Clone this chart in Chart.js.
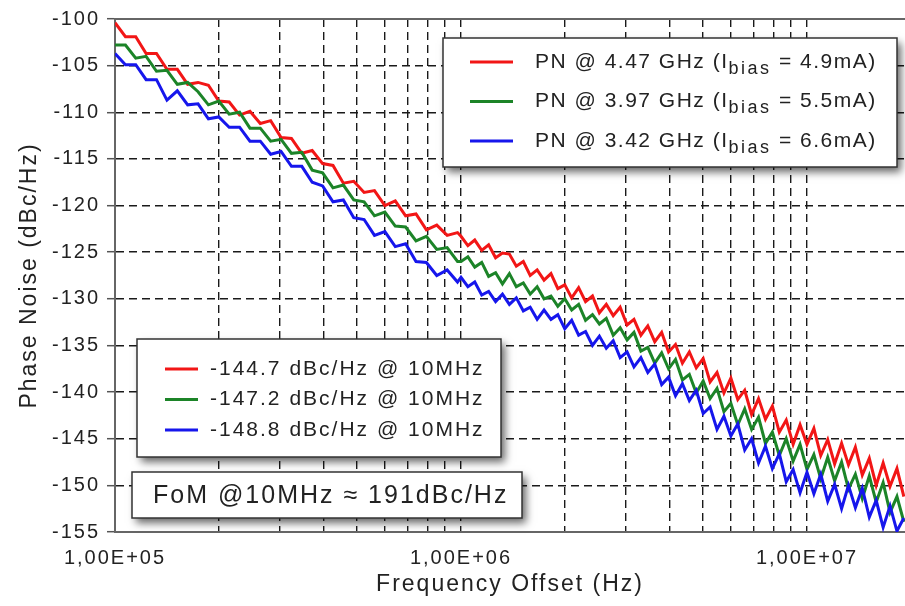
<!DOCTYPE html>
<html>
<head>
<meta charset="utf-8">
<title>Phase Noise vs Frequency Offset</title>
<script src="https://cdn.jsdelivr.net/npm/chart.js@4.4.1/dist/chart.umd.min.js"></script>
<style>
  html, body { margin: 0; padding: 0; background: #fff; }
  canvas { display: block; }
</style>
</head>
<body>
<canvas id="pnChart" width="905" height="606"></canvas>
<script>
// offset frequencies (Hz)
const freqOffsets = [
    1.000e5, 1.072e5, 1.148e5, 1.230e5, 1.318e5, 1.413e5, 1.514e5, 1.622e5, 1.738e5, 1.862e5,
    1.995e5, 2.138e5, 2.291e5, 2.455e5, 2.630e5, 2.818e5, 3.020e5, 3.236e5, 3.467e5, 3.715e5,
    3.981e5, 4.266e5, 4.571e5, 4.898e5, 5.248e5, 5.623e5, 6.026e5, 6.457e5, 6.918e5, 7.413e5,
    7.943e5, 8.511e5, 9.120e5, 9.772e5,
    1.000e6, 1.047e6, 1.096e6, 1.148e6, 1.202e6, 1.259e6, 1.318e6, 1.380e6, 1.445e6, 1.514e6,
    1.585e6, 1.660e6, 1.738e6, 1.820e6, 1.905e6, 1.995e6, 2.089e6, 2.188e6, 2.291e6, 2.399e6,
    2.512e6, 2.630e6, 2.754e6, 2.884e6, 3.020e6, 3.162e6, 3.311e6, 3.467e6, 3.631e6, 3.802e6,
    3.981e6, 4.169e6, 4.365e6, 4.571e6, 4.786e6, 5.012e6, 5.248e6, 5.495e6, 5.754e6, 6.026e6,
    6.310e6, 6.607e6, 6.918e6, 7.244e6, 7.586e6, 7.943e6, 8.318e6, 8.710e6, 9.120e6, 9.550e6,
    1.000e7, 1.047e7, 1.096e7, 1.148e7, 1.202e7, 1.259e7, 1.318e7, 1.380e7, 1.445e7, 1.514e7,
    1.585e7, 1.660e7, 1.738e7, 1.820e7, 1.905e7
];

// phase noise in dBc/Hz, 4.47 GHz carrier
const pn447 = [
    -100.4, -101.9, -101.9, -103.7, -103.7, -105.4, -105.4, -107.0, -106.8, -107.1,
    -108.8, -108.9, -110.3, -109.9, -111.2, -110.9, -112.7, -112.8, -114.4, -114.1,
    -115.5, -115.7, -117.6, -117.4, -118.6, -118.4, -120.0, -119.5, -121.1, -120.9,
    -122.6, -122.1, -123.2, -122.9,
    -123.3, -124.3, -123.7, -124.8, -124.2, -125.6, -125.1, -125.2, -126.5, -126.0,
    -127.5, -126.9, -128.0, -127.3, -128.9, -128.5, -129.9, -128.8, -130.3, -129.7,
    -131.5, -130.6, -131.8, -130.9, -132.8, -132.2, -133.9, -132.9, -134.6, -133.6,
    -135.7, -134.9, -136.9, -135.7, -137.4, -136.4, -138.9, -137.9, -140.1, -138.5,
    -140.8, -139.8, -142.4, -140.7, -142.9, -141.5, -144.3, -143.0, -145.6, -143.5,
    -145.6, -143.9, -146.8, -145.1, -147.7, -145.5, -147.8, -145.9, -148.9, -147.1,
    -150.0, -147.6, -150.1, -148.2, -151.2
];

// 3.97 GHz carrier
const pn397 = [
    -102.8, -102.8, -104.2, -104.0, -105.6, -105.5, -107.0, -106.8, -107.8, -109.2,
    -108.8, -110.2, -110.0, -111.7, -111.7, -113.1, -112.9, -114.4, -114.3, -116.2,
    -116.5, -118.1, -117.8, -119.4, -119.6, -121.1, -120.7, -122.2, -122.3, -123.8,
    -123.3, -124.7, -124.5, -126.0,
    -126.0, -125.5, -126.6, -126.1, -127.6, -127.2, -128.4, -127.3, -128.7, -128.3,
    -129.5, -128.7, -130.0, -129.7, -130.8, -130.0, -131.2, -130.6, -132.3, -131.7,
    -132.7, -132.1, -133.9, -133.1, -134.4, -133.6, -135.6, -135.2, -136.9, -135.8,
    -137.5, -136.5, -138.7, -138.1, -140.1, -138.8, -140.7, -139.6, -142.1, -141.2,
    -143.5, -141.8, -144.0, -142.7, -145.5, -144.3, -146.8, -145.0, -147.4, -145.6,
    -148.3, -146.7, -149.3, -147.0, -149.5, -147.5, -150.4, -148.8, -151.4, -149.0,
    -151.8, -149.7, -152.9, -151.2, -153.9
];

// 3.42 GHz carrier
const pn342 = [
    -103.7, -104.9, -104.9, -106.5, -106.5, -108.7, -107.7, -109.2, -109.1, -110.7,
    -110.5, -111.6, -111.6, -113.1, -113.1, -114.5, -114.2, -115.8, -115.8, -117.5,
    -117.9, -119.6, -119.4, -121.3, -121.5, -123.2, -122.8, -124.4, -124.1, -126.0,
    -126.1, -127.5, -126.9, -128.2,
    -127.7, -128.7, -128.2, -129.6, -129.2, -130.3, -129.5, -130.6, -129.9, -131.3,
    -130.9, -132.2, -131.2, -132.2, -131.7, -133.2, -132.3, -133.9, -133.5, -135.0,
    -134.0, -135.3, -134.5, -136.3, -135.7, -137.3, -136.3, -137.9, -137.0, -139.2,
    -138.4, -140.4, -139.1, -140.9, -139.8, -142.3, -141.6, -144.0, -142.6, -144.7,
    -143.4, -146.2, -145.0, -147.6, -145.8, -148.2, -146.6, -149.6, -148.3, -150.8,
    -148.6, -150.9, -148.8, -151.7, -149.9, -152.5, -150.0, -152.4, -150.3, -153.4,
    -151.6, -154.5, -152.2, -154.9, -153.5
];

const seriesColors = ['rgb(242,22,22)', 'rgb(28,132,40)', 'rgb(22,22,236)'];
const carrierNames = ['PN @ 4.47 GHz', 'PN @ 3.97 GHz', 'PN @ 3.42 GHz'];
const biasCurrents = ['4.9mA', '5.5mA', '6.6mA'];
const pnAt10MHz = ['-144.7 dBc/Hz @ 10MHz', '-147.2 dBc/Hz @ 10MHz', '-148.8 dBc/Hz @ 10MHz'];
const fomText = 'FoM @10MHz \u2248 191dBc/Hz';

// grid positions on the log axis and the labelled decades
const xTickValues = [
    1e5, 2e5, 3e5, 4e5, 5e5, 6e5, 7e5, 8e5, 9e5,
    1e6, 2e6, 3e6, 4e6, 5e6, 6e6, 7e6, 8e6, 9e6,
    1e7
];
const xLabelValues = [1e5, 1e6, 1e7];
const xLabelTexts = ['1,00E+05', '1,00E+06', '1,00E+07'];

const fontFamily = '"Liberation Sans", Arial, Helvetica, sans-serif';
const textColor = '#222222';

function toPoints(values) {
    return values.map((v, i) => ({ x: freqOffsets[i], y: v }));
}

function drawBox(ctx, x, y, w, h) {
    ctx.save();
    ctx.shadowColor = 'rgba(0,0,0,0.6)';
    ctx.shadowBlur = 8;
    ctx.shadowOffsetX = 4;
    ctx.shadowOffsetY = 5;
    ctx.fillStyle = '#ffffff';
    ctx.fillRect(x, y, w, h);
    ctx.restore();
    ctx.save();
    ctx.strokeStyle = '#333333';
    ctx.lineWidth = 1.5;
    ctx.strokeRect(x, y, w, h);
    ctx.restore();
}

function drawSample(ctx, x1, x2, y, color) {
    ctx.save();
    ctx.strokeStyle = color;
    ctx.lineWidth = 3;
    ctx.beginPath();
    ctx.moveTo(x1, y);
    ctx.lineTo(x2, y);
    ctx.stroke();
    ctx.restore();
}

const annotationPlugin = {
    id: 'pnAnnotations',
    beforeDraw(chart) {
        chart.ctx.letterSpacing = '2px';
    },
    beforeDatasetsDraw(chart) {
        const { ctx, chartArea } = chart;
        ctx.save();
        ctx.strokeStyle = '#666666';
        ctx.lineWidth = 2;
        ctx.beginPath();
        ctx.moveTo(chartArea.left, chartArea.top);
        ctx.lineTo(chartArea.right, chartArea.top);
        ctx.stroke();
        ctx.restore();
    },
    afterDatasetsDraw(chart) {
        const ctx = chart.ctx;
        ctx.save();
        ctx.fillStyle = textColor;
        ctx.textBaseline = 'middle';
        ctx.textAlign = 'left';

        // carrier legend (top right)
        drawBox(ctx, 443, 38, 454, 129);
        carrierNames.forEach((name, i) => {
            const y = 62 + i * 39.5;
            drawSample(ctx, 470, 513, y, seriesColors[i]);
            let tx = 535;
            const head = name + ' (I';
            const tail = ' = ' + biasCurrents[i] + ')';
            ctx.letterSpacing = '1.5px';
            ctx.font = '21px ' + fontFamily;
            ctx.fillText(head, tx, y);
            tx += ctx.measureText(head).width;
            ctx.letterSpacing = '2.5px';
            ctx.font = '18px ' + fontFamily;
            ctx.fillText('bias', tx, y + 7);
            tx += ctx.measureText('bias').width;
            ctx.letterSpacing = '1.5px';
            ctx.font = '21px ' + fontFamily;
            ctx.fillText(tail, tx, y);
        });

        // noise at 10 MHz legend
        drawBox(ctx, 137, 339, 364, 118);
        pnAt10MHz.forEach((txt, i) => {
            const y = 369 + i * 30.5;
            drawSample(ctx, 165, 198, y, seriesColors[i]);
            ctx.letterSpacing = '2px';
            ctx.font = '21px ' + fontFamily;
            ctx.fillText(txt, 210, y);
        });

        // figure of merit box
        drawBox(ctx, 132, 472, 390, 46);
        ctx.letterSpacing = '2px';
        ctx.font = '25px ' + fontFamily;
        ctx.fillText(fomText, 153, 496);
        ctx.restore();
    }
};

const gridStyle = {
    color: '#1a1a1a',
    lineWidth: 1.4,
    drawTicks: false
};

new Chart(document.getElementById('pnChart'), {
    type: 'line',
    data: {
        datasets: [
            { label: carrierNames[2], data: toPoints(pn342), borderColor: seriesColors[2], order: 0 },
            { label: carrierNames[1], data: toPoints(pn397), borderColor: seriesColors[1], order: 1 },
            { label: carrierNames[0], data: toPoints(pn447), borderColor: seriesColors[0], order: 2 }
        ]
    },
    options: {
        responsive: false,
        animation: false,
        parsing: false,
        layout: { padding: { top: 19, right: 0, left: 0, bottom: 0 } },
        elements: {
            line: { borderWidth: 3, tension: 0, fill: false },
            point: { radius: 0 }
        },
        plugins: {
            legend: { display: false },
            tooltip: { enabled: false }
        },
        scales: {
            x: {
                type: 'logarithmic',
                min: 1e5,
                max: 1.92e7,
                afterBuildTicks: scale => {
                    scale.ticks = xTickValues.map(v => ({ value: v }));
                },
                afterFit: scale => { scale.height = 74; },
                grid: gridStyle,
                border: { display: true, color: '#666666', width: 2, dash: [8, 5] },
                ticks: {
                    autoSkip: false,
                    maxRotation: 0,
                    padding: 14,
                    color: textColor,
                    font: { family: fontFamily, size: 20 },
                    callback: value => {
                        const k = xLabelValues.indexOf(value);
                        return k >= 0 ? xLabelTexts[k] : '';
                    }
                },
                title: {
                    display: true,
                    text: 'Frequency Offset (Hz)',
                    color: textColor,
                    font: { family: fontFamily, size: 23 },
                    padding: { top: 0, bottom: 8 }
                }
            },
            y: {
                min: -155,
                max: -100,
                afterFit: scale => { scale.width = 115; },
                grid: { color: '#1a1a1a', lineWidth: 1.4, drawTicks: true, tickLength: 8, tickColor: '#555555', tickWidth: 1.5 },
                border: { display: true, color: '#666666', width: 2, dash: [8, 5] },
                ticks: {
                    stepSize: 5,
                    padding: 7,
                    color: textColor,
                    font: { family: fontFamily, size: 20 }
                },
                title: {
                    display: true,
                    text: 'Phase Noise (dBc/Hz)',
                    color: textColor,
                    font: { family: fontFamily, size: 23 },
                    padding: { top: 16, bottom: 0 }
                }
            }
        }
    },
    plugins: [annotationPlugin]
});
</script>
</body>
</html>
